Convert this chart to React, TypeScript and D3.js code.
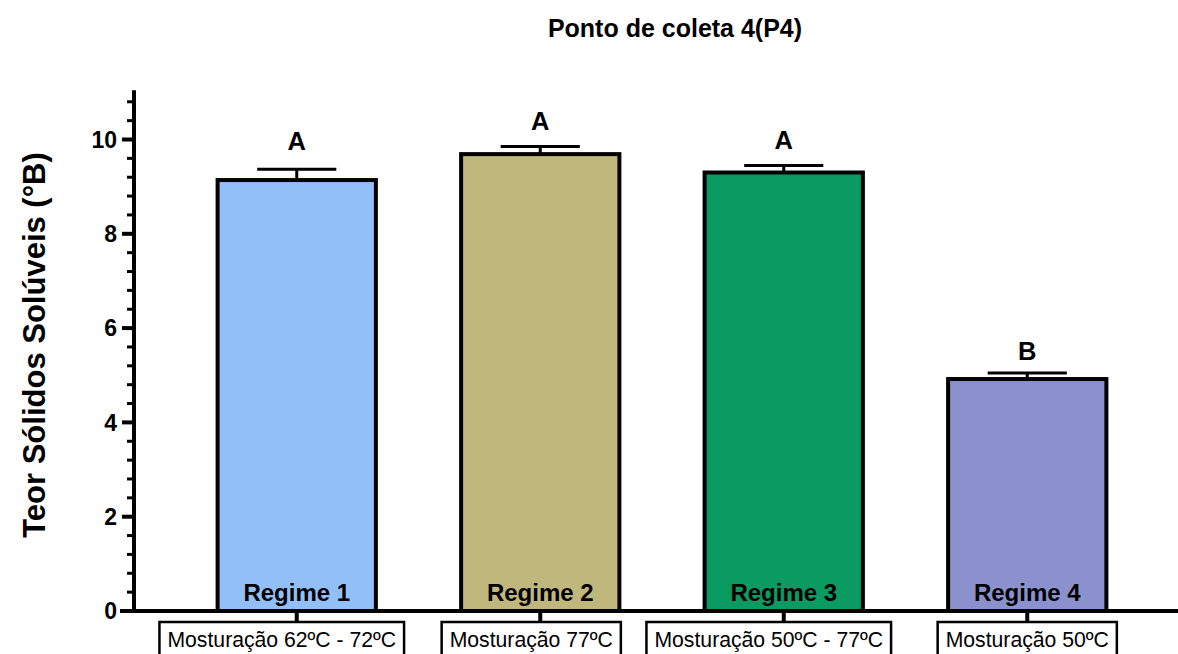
import React, { useEffect, useRef } from "react";
import * as d3 from "d3";

const categories = ["Regime 1", "Regime 2", "Regime 3", "Regime 4"];
const subLabels = [
  "Mosturação 62ºC - 72ºC",
  "Mosturação 77ºC",
  "Mosturação 50ºC - 77ºC",
  "Mosturação 50ºC",
];
const means = [9.14, 9.69, 9.3, 4.92];
const errors = [0.23, 0.16, 0.15, 0.13];
const letters = ["A", "A", "A", "B"];
const colors = ["#93bff8", "#c0b77d", "#0b9a61", "#8b91cc"];
const yTicks = [0, 2, 4, 6, 8, 10];

const W = 1178;
const H = 654;

// the label boxes in the original sit a little left of their ticks,
// and the letters were placed by hand above the caps
const boxShift = [-15, -9, -15, 0];
const letterGap = [19, 17, 16, 13];

const App: React.FC = () => {
  const svgRef = useRef<SVGSVGElement>(null);

  useEffect(() => {
    if (!svgRef.current) return;
    const svg = d3.select(svgRef.current);
    svg.selectAll("*").remove();

    const font = "'Liberation Sans', Arial, sans-serif";
    const x0 = 134;
    const y0 = 611;

    const y = d3.scaleLinear().domain([0, 11]).range([y0, y0 - 11 * 47.15]);
    const x = d3
      .scaleBand()
      .domain(categories)
      .range([175, 1149])
      .paddingInner(0.35)
      .paddingOuter(0.175);

    // title
    svg
      .append("text")
      .attr("x", 675)
      .attr("y", 37)
      .attr("text-anchor", "middle")
      .style("font-family", font)
      .style("font-weight", "bold")
      .style("font-size", "25px")
      .text("Ponto de coleta 4(P4)");

    // y label
    svg
      .append("text")
      .attr("transform", `translate(45, 345) rotate(-90)`)
      .attr("text-anchor", "middle")
      .style("font-family", font)
      .style("font-weight", "bold")
      .style("font-size", "31px")
      .text("Teor Sólidos Solúveis (°B)");

    // bars
    const bw = x.bandwidth();
    categories.forEach((c, i) => {
      const bx = x(c)!;
      const cx = bx + bw / 2;
      const top = y(means[i]);
      const et = y(means[i] + errors[i]);
      // error bar
      svg
        .append("line")
        .attr("x1", cx)
        .attr("x2", cx)
        .attr("y1", top)
        .attr("y2", et)
        .attr("stroke", "#000")
        .attr("stroke-width", 3);
      svg
        .append("line")
        .attr("x1", cx - bw / 4)
        .attr("x2", cx + bw / 4)
        .attr("y1", et)
        .attr("y2", et)
        .attr("stroke", "#000")
        .attr("stroke-width", 3);
      svg
        .append("rect")
        .attr("x", bx)
        .attr("y", top)
        .attr("width", bw)
        .attr("height", y0 - top)
        .attr("fill", colors[i])
        .attr("stroke", "#000")
        .attr("stroke-width", 4);
      svg
        .append("text")
        .attr("x", cx)
        .attr("y", et - letterGap[i])
        .attr("text-anchor", "middle")
        .style("font-family", font)
        .style("font-weight", "bold")
        .style("font-size", "25.5px")
        .text(letters[i]);
      svg
        .append("text")
        .attr("x", cx)
        .attr("y", 601)
        .attr("text-anchor", "middle")
        .style("font-family", font)
        .style("font-weight", "bold")
        .style("font-size", "24px")
        .text(c);

      // category tick + boxed sublabel
      svg
        .append("line")
        .attr("x1", cx)
        .attr("x2", cx)
        .attr("y1", y0)
        .attr("y2", 622)
        .attr("stroke", "#000")
        .attr("stroke-width", 4);
      const lx = cx + boxShift[i];
      const t = svg
        .append("text")
        .attr("x", lx)
        .attr("y", 647)
        .attr("text-anchor", "middle")
        .style("font-family", font)
        .style("font-size", "21.2px")
        .text(subLabels[i]);
      const tw = (t.node() as SVGTextElement).getComputedTextLength();
      svg
        .append("rect")
        .attr("x", lx - tw / 2 - 8)
        .attr("y", 622)
        .attr("width", tw + 16)
        .attr("height", 40)
        .attr("fill", "#fff")
        .attr("stroke", "#000")
        .attr("stroke-width", 2.5);
      t.raise();
    });

    // x axis line
    svg
      .append("line")
      .attr("x1", 120)
      .attr("x2", W)
      .attr("y1", y0)
      .attr("y2", y0)
      .attr("stroke", "#000")
      .attr("stroke-width", 4);

    // y axis
    svg
      .append("line")
      .attr("x1", x0)
      .attr("x2", x0)
      .attr("y1", y(11) - 2)
      .attr("y2", y0 + 2)
      .attr("stroke", "#000")
      .attr("stroke-width", 4);

    const minor = d3.range(0, 11.01, 0.4).filter((v) => Math.abs(v / 2 - Math.round(v / 2)) > 0.01);
    minor.forEach((v) => {
      svg
        .append("line")
        .attr("x1", x0 - 7)
        .attr("x2", x0)
        .attr("y1", y(v))
        .attr("y2", y(v))
        .attr("stroke", "#000")
        .attr("stroke-width", 3);
    });
    yTicks.forEach((v) => {
      svg
        .append("line")
        .attr("x1", x0 - 12)
        .attr("x2", x0)
        .attr("y1", y(v))
        .attr("y2", y(v))
        .attr("stroke", "#000")
        .attr("stroke-width", 4);
      svg
        .append("text")
        .attr("x", x0 - 17)
        .attr("y", y(v))
        .attr("dy", "0.36em")
        .attr("text-anchor", "end")
        .style("font-family", font)
        .style("font-weight", "bold")
        .style("font-size", "23px")
        .text(v);
    });
  }, []);

  return (
    <svg
      ref={svgRef}
      width={W}
      height={H}
      style={{ position: "absolute", left: 0, top: 0, background: "#fff" }}
    />
  );
};

export default App;
